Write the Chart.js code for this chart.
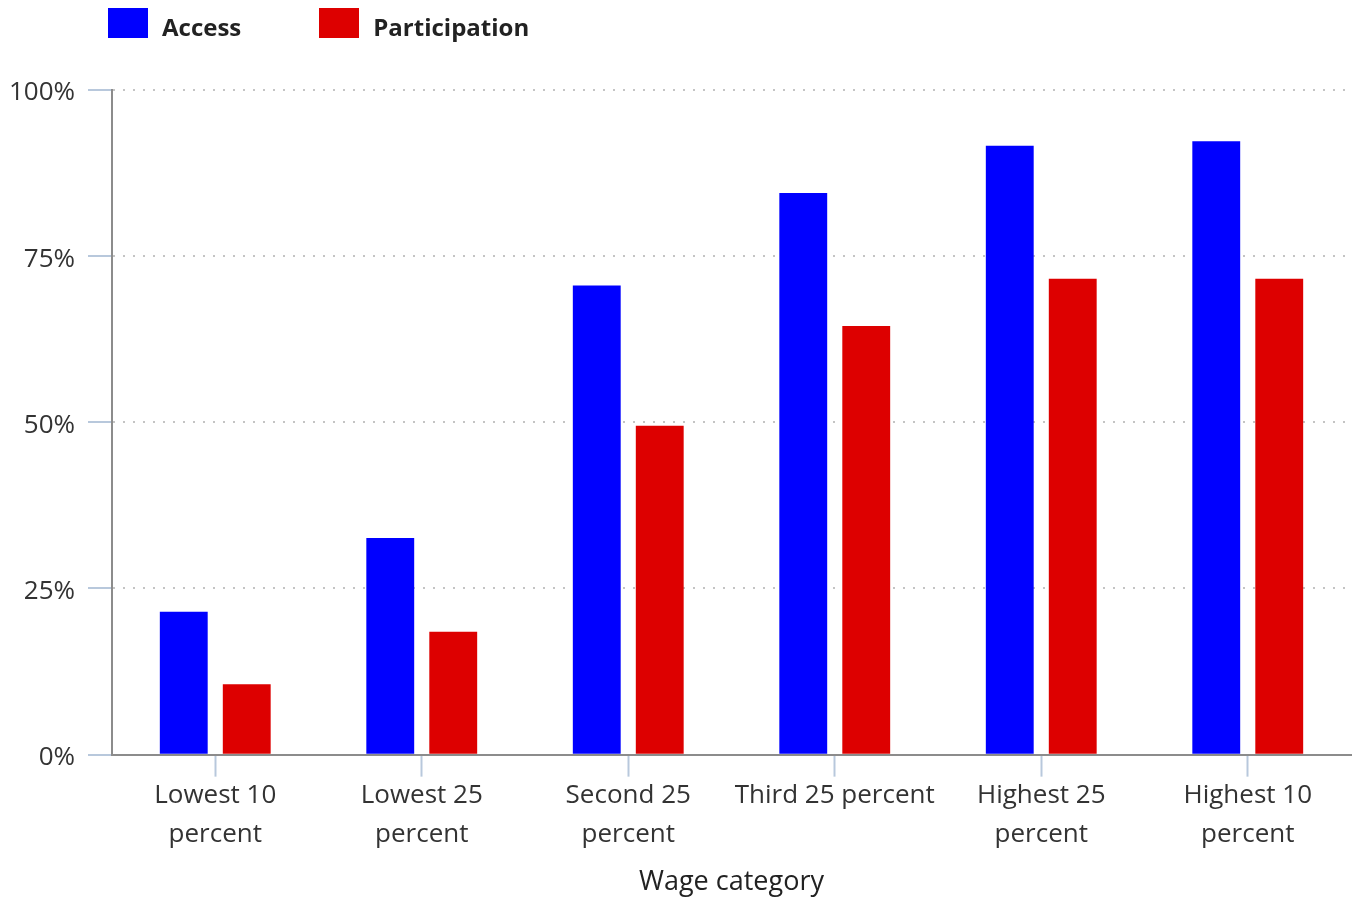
<!DOCTYPE html>
<html>
<head>
<meta charset="utf-8">
<title>Access and participation by wage category</title>
<script src="https://cdn.jsdelivr.net/npm/chart.js@4/dist/chart.umd.min.js"></script>
<style>
    html, body { margin: 0; padding: 0; background: #fff; }
    #wrap { position: relative; width: 1356px; height: 900px; }
    #legend { position: absolute; left: 108px; top: 8px; display: flex; font-family: 'Open Sans', sans-serif; font-weight: bold; font-size: 24px; color: #222; }
    .item { display: flex; align-items: center; height: 30px; }
    .item .box { width: 40px; height: 30px; margin-right: 14px; }
    .item .txt { position: relative; top: 3px; }
    .item + .item { margin-left: 78px; }
</style>
</head>
<body>
<div id="wrap">
    <canvas id="wageChart"></canvas>
    <div id="legend"></div>
</div>
<script>
// Data
const wageCategories = [
    ['Lowest 10', 'percent'],
    ['Lowest 25', 'percent'],
    ['Second 25', 'percent'],
    'Third 25 percent',
    ['Highest 25', 'percent'],
    ['Highest 10', 'percent']
];
const accessValues = [21.5, 32.6, 70.6, 84.5, 91.6, 92.3];
const participationValues = [10.6, 18.5, 49.5, 64.5, 71.6, 71.6];
const percentTicks = [0, 25, 50, 75, 100];

const FONT = "'Open Sans', sans-serif";

const ctx = document.getElementById('wageChart').getContext('2d');
const chart = new Chart(ctx, {
    type: 'bar',
    data: {
        labels: wageCategories,
        datasets: [
            { label: 'Access', data: accessValues, backgroundColor: '#0000ff', borderWidth: 0 },
            { label: 'Participation', data: participationValues, backgroundColor: '#dd0000', borderWidth: 0 }
        ]
    },
    options: {
        responsive: true,
        maintainAspectRatio: false,
        animation: false,
        categoryPercentage: 0.61,
        barPercentage: 0.76,
        layout: { padding: { top: 90, right: 5, bottom: 1, left: 0 } },
        plugins: {
            legend: { display: false },
            tooltip: { enabled: false }
        },
        scales: {
            x: {
                grid: {
                    display: true,
                    drawOnChartArea: false,
                    offset: false,
                    tickLength: 22,
                    tickColor: '#b8c8dc',
                    tickWidth: 2
                },
                border: { color: '#8c8c8c', width: 2 },
                ticks: {
                    autoSkip: false,
                    maxRotation: 0,
                    padding: 0,
                    color: '#333',
                    font: { family: FONT, size: 26, lineHeight: 1.48 }
                },
                title: {
                    display: true,
                    text: 'Wage category',
                    color: '#222',
                    padding: { top: 13, bottom: 0 },
                    font: { family: FONT, size: 27, lineHeight: 1.2 }
                }
            },
            y: {
                min: 0,
                max: 100,
                afterBuildTicks: scale => {
                    scale.ticks = percentTicks.map(v => ({ value: v }));
                },
                afterFit: scale => { scale.width = 112; },
                grid: {
                    color: '#c4c4c4',
                    lineWidth: 2,
                    tickLength: 24,
                    tickColor: '#b8c8dc',
                    tickWidth: 2
                },
                border: { color: '#8c8c8c', width: 2, dash: [2, 8] },
                ticks: {
                    padding: 13,
                    labelOffset: 3,
                    color: '#333',
                    font: { family: FONT, size: 26 },
                    callback: v => v + '%'
                }
            }
        }
    }
});

// HTML legend built from the datasets
const legendBox = document.getElementById('legend');
chart.data.datasets.forEach(ds => {
    const item = document.createElement('div');
    item.className = 'item';
    const box = document.createElement('span');
    box.className = 'box';
    box.style.background = ds.backgroundColor;
    const label = document.createElement('span');
    label.className = 'txt';
    label.textContent = ds.label;
    item.appendChild(box);
    item.appendChild(label);
    legendBox.appendChild(item);
});
</script>
</body>
</html>
